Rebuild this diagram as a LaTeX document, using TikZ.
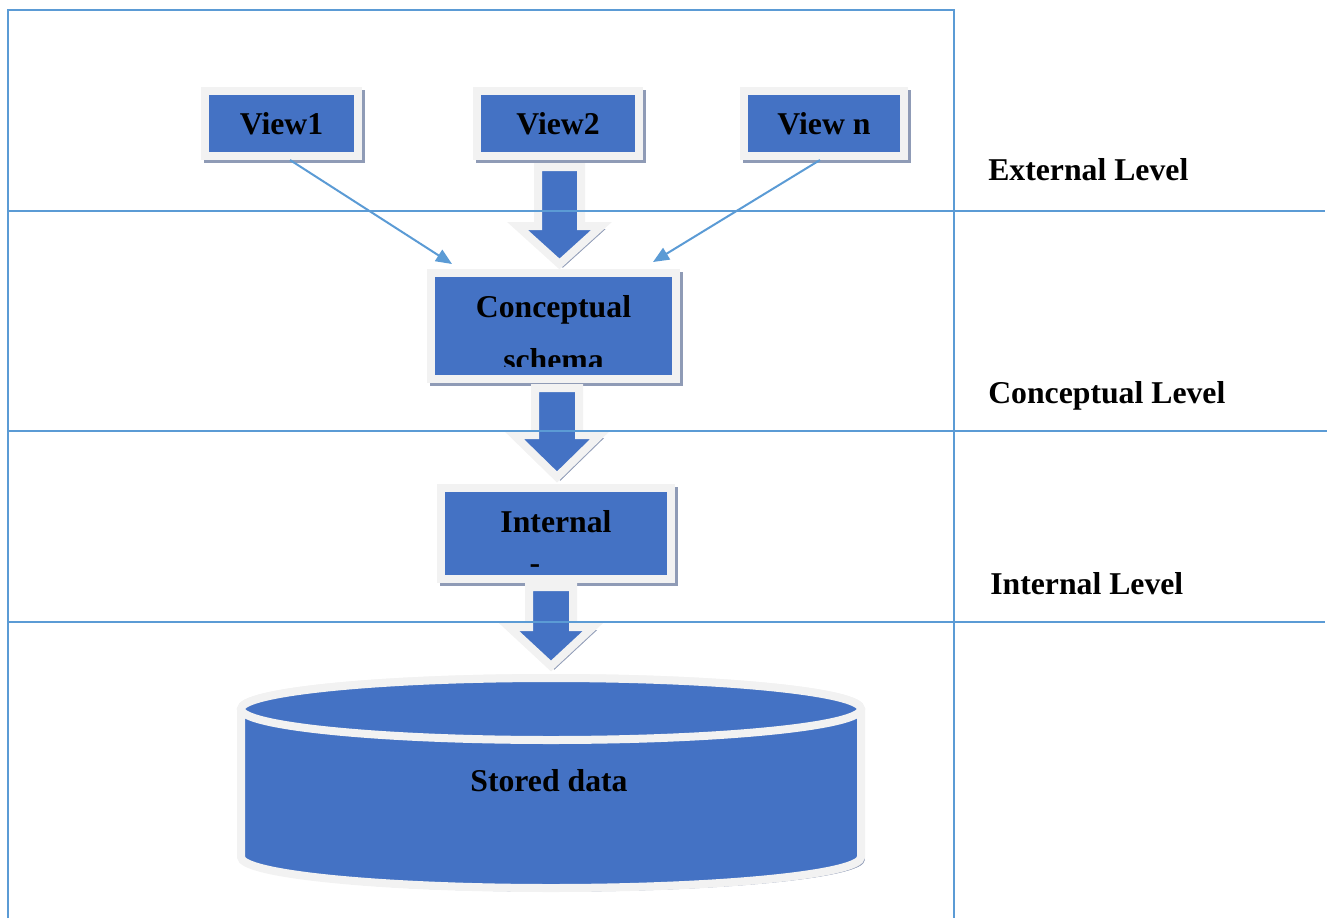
\documentclass[tikz,border=0pt]{standalone}
\usepackage{fontspec}
\setmainfont{Liberation Serif}
\usepackage{tikz}
\usetikzlibrary{calc, positioning, arrows.meta, shadows}
\definecolor{boxblue}{RGB}{68,114,196}
\definecolor{framegrey}{RGB}{242,242,242}
\definecolor{shgrey}{RGB}{143,155,182}
\definecolor{rulecol}{RGB}{91,155,213}
\tikzstyle{box}=[draw=framegrey, fill=boxblue, line width=6pt, inner sep=0pt, drop shadow={shadow xshift=2.5pt, shadow yshift=-2.5pt, opacity=1, fill=shgrey, draw=shgrey}]
\tikzstyle{txt}=[inner sep=0pt, font=\fontsize{23.8pt}{28pt}\selectfont\bfseries]
\tikzstyle{grid}=[draw=rulecol, line width=1pt]
\tikzstyle{conn}=[draw=rulecol, line width=1.5pt]
\tikzset{>={Triangle[length=12pt,width=10pt]}}

\begin{document}
\begin{tikzpicture}[x=0.75pt, y=-0.75pt]
\useasboundingbox (0,0) rectangle (1332,918);
% the three views
\node[box, txt, minimum width=114.75pt, minimum height=48.75pt] (v1) at (281.5,123.5) {View1};
\node[box, txt, minimum width=121.5pt, minimum height=48.75pt] (v2) at (558,123.5) {View2};
\node[box, txt, minimum width=120pt, minimum height=48.75pt] (vn) at (824,123.5) {View n};
% the conceptual schema
\node[box, minimum width=183.75pt, minimum height=79.5pt] (cs) at (553.5,326) {};
\node[txt, anchor=base] (cs1) at (553.5,317) {Conceptual};
\begin{scope}
\clip (cs.north west) rectangle ($(cs.south east)+(0,-17)$);
\node[txt, anchor=base] (cs2) at (553.5,370) {schema};
\end{scope}
% the internal schema
\node[box, minimum width=172.5pt, minimum height=68.25pt] (in) at (556,533.5) {};
\node[txt, anchor=base] (in1) at (556,532) {Internal};
\node[txt, anchor=base] (in2) at (535,573) {-};
% the block arrows
\begin{scope}[shift={(v2.south)}]
\draw[box] (-20,7) -- (23,7) -- (23,66) -- (43.5,66) -- (1.5,104) -- (-40.5,66) -- (-20,66) -- cycle;
\end{scope}
\begin{scope}[shift={(cs.south)}]
\draw[box] (-18.5,5) -- (25.5,5) -- (25.5,52) -- (46.5,52) -- (3.5,94) -- (-39.5,52) -- (-18.5,52) -- cycle;
\end{scope}
\begin{scope}[shift={(in.south)}]
\draw[box] (-27,4) -- (17,4) -- (17,44) -- (37,44) -- (-5,83) -- (-47,44) -- (-27,44) -- cycle;
\end{scope}
% the stored data
\draw[box] (241,709) -- (241,857) arc[start angle=180, end angle=0, x radius=310, y radius=31] -- (861,709) arc[start angle=0, end angle=-180, x radius=310, y radius=31] -- cycle;
\draw[draw=framegrey, fill=boxblue, line width=6pt] (551,709) ellipse[x radius=310, y radius=31];
\node[txt, anchor=base] (sd) at (549,791) {Stored data};
% the thin arrows
\draw[conn, ->] ($(v1.south)+(8.5,0)$) -- ($(cs.north west)+(25,-5)$);
\draw[conn, ->] ($(vn.south)+(-4,0)$) -- ($(cs.north east)+(-27,-7)$);
% the levels
\node[txt, anchor=base west] (ext) at (988,180) {External Level};
\node[txt, anchor=base west] (con) at (988,403) {Conceptual Level};
\node[txt, anchor=base west] (int) at (990,594) {Internal Level};
% the table
\draw[grid] (8,918) -- (8,10) -- (954,10) -- (954,918);
\draw[grid] (8,211) -- (1325,211);
\draw[grid] (8,431) -- (1327,431);
\draw[grid] (8,622) -- (1325,622);
\end{tikzpicture}
\end{document}
